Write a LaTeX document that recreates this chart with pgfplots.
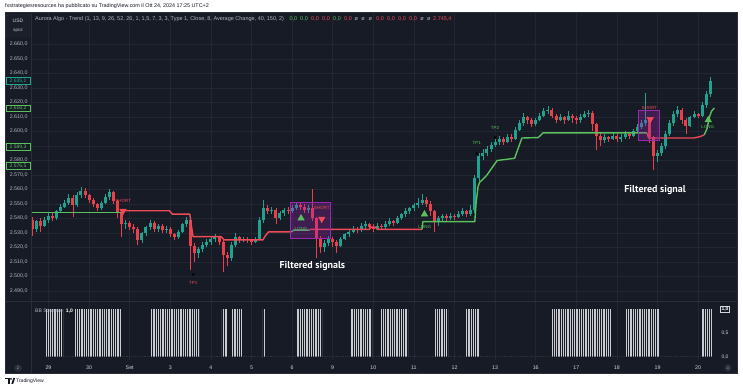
\documentclass[border=0pt]{standalone}
\usepackage{pgfplots}
\pgfplotsset{compat=1.18}
\usepackage{pgfplotstable}
\usepackage{fontspec}
\setmainfont{Liberation Sans}
\newfontfamily\annfont{PT Sans}
\newfontfamily\symfont{DejaVu Sans}
\usetikzlibrary{patterns.meta}
\definecolor{bgd}{HTML}{171B26}
\definecolor{gridc}{HTML}{222633}
\definecolor{sepc}{HTML}{2A2E39}
\definecolor{upc}{HTML}{1FA38F}
\definecolor{dnc}{HTML}{EB3F4C}
\definecolor{tgreen}{HTML}{5CBF5E}
\definecolor{tred}{HTML}{EE4B57}
\definecolor{txt}{HTML}{B2B5BE}
\definecolor{txtl}{HTML}{D1D4DC}
\definecolor{boxc}{HTML}{9C27B0}
\definecolor{sqz}{HTML}{C9CBD1}
\definecolor{hdr}{HTML}{131722}

\pgfplotstableread{
x o h l c
-0.4 2539 2541 2528 2533
-0.3 2533 2539 2531 2538
-0.2 2538 2540 2531 2535
-0.1 2535 2541 2534 2539
0.0 2539 2544 2537 2542
0.1 2542 2544 2538 2540
0.2 2540 2546 2539 2545
0.3 2545 2550 2544 2548
0.4 2548 2553 2547 2551
0.5 2551 2557 2549 2554
0.6 2554 2556 2541 2549
0.7 2549 2558 2548 2556
0.8 2556 2561.7 2554 2559
0.9 2559 2561 2554 2556
1.0 2556 2557 2551 2553
1.1 2553 2554 2548 2550
1.2 2550 2551 2545 2547
1.3 2547 2552 2546 2551
1.4 2551 2557 2550 2555
1.5 2555 2560.5 2553 2558
1.6 2558 2559 2550 2552
1.7 2552 2553 2540 2544
1.8 2544 2546 2527 2536
1.9 2536 2539 2533 2537
2.0 2537 2538 2532 2534
2.1 2534 2536 2530 2533
2.2 2533 2534 2522 2525
2.3 2525 2531 2523 2530
2.4 2530 2535 2528 2534
2.5 2534 2539 2532 2537
2.6 2537 2538 2531 2533
2.7 2533 2536 2531 2535
2.8 2535 2536 2530 2532
2.9 2532 2535 2530 2533
3.0 2533 2534 2527 2529
3.1 2529 2530 2525 2527
3.2 2527 2532 2526 2531
3.3 2531 2537 2530 2536
3.4 2536 2541 2534 2539
3.5 2539 2540 2504.5 2521
3.6 2521 2523 2510 2516
3.7 2516 2520 2513 2519
3.8 2519 2524 2517 2522
3.9 2522 2526 2520 2524
4.0 2524 2528 2522 2526
4.1 2526 2529 2524 2527
4.2 2527 2528 2522 2524
4.3 2524 2525 2503 2515
4.4 2515 2517 2507 2513
4.5 2513 2524 2511 2522
4.6 2522 2530 2520 2527
4.7 2527 2528 2523 2525
4.8 2525 2527 2524 2526
4.9 2526 2527 2523 2525
5.0 2525 2526 2522 2524
5.1 2524 2527 2523 2526
5.2 2526 2541 2525 2539
5.3 2539 2553 2537 2547
5.4 2547 2549 2543 2545
5.5 2545 2548 2543 2546
5.6 2546 2547 2536 2540
5.7 2540 2545 2539 2544
5.8 2544 2547 2542 2546
5.9 2546 2548 2543 2545
6.0 2545 2549 2544 2547
6.1 2547 2551 2546 2549
6.2 2549 2551 2546 2548
6.3 2548 2550 2544 2546
6.4 2546 2549 2544 2547
6.5 2547 2560 2538 2540
6.6 2540 2541 2513 2526
6.7 2526 2528 2516 2520
6.8 2520 2525 2517 2523
6.9 2523 2528 2521 2526
7.0 2526 2527 2520 2524
7.1 2524 2525 2516 2521
7.2 2521 2527 2520 2526
7.3 2526 2530 2525 2529
7.4 2529 2533 2527 2531
7.5 2531 2535 2530 2533
7.6 2533 2534 2530 2532
7.7 2532 2537 2531 2535
7.8 2535 2538 2533 2536
7.9 2536 2537 2532 2534
8.0 2534 2536 2531 2533
8.1 2533 2537 2532 2535
8.2 2535 2536 2532 2534
8.3 2534 2538 2533 2536
8.4 2536 2540 2535 2538
8.5 2538 2539 2535 2537
8.6 2537 2542 2536 2540
8.7 2540 2544 2539 2543
8.8 2543 2547 2541 2545
8.9 2545 2548 2543 2547
9.0 2547 2551 2545 2549
9.1 2549 2554 2547 2551
9.2 2551 2557 2549 2553
9.3 2553 2555 2548 2550
9.4 2550 2552 2542 2545
9.5 2545 2546 2531 2538
9.6 2538 2542 2535 2540
9.7 2540 2543 2538 2542
9.8 2542 2543 2538 2540
9.9 2540 2544 2539 2542
10.0 2542 2543 2539 2541
10.1 2541 2545 2540 2543
10.2 2543 2547 2542 2545
10.3 2545 2546 2541 2543
10.4 2543 2549 2542 2546
10.5 2546 2570 2544 2568
10.6 2568 2585 2566 2583
10.7 2583 2588 2580 2585
10.8 2585 2590 2583 2588
10.9 2588 2593 2586 2591
11.0 2591 2595 2589 2593
11.1 2593 2597 2591 2595
11.2 2595 2596 2591 2593
11.3 2593 2598 2592 2596
11.4 2596 2598 2593 2595
11.5 2595 2603 2594 2601
11.6 2601 2608 2600 2606
11.7 2606 2613 2604 2610
11.8 2610 2611 2605 2608
11.9 2608 2609 2603 2605
12.0 2605 2609 2604 2608
12.1 2608 2613 2607 2611
12.2 2611 2616 2610 2614
12.3 2614 2617.5 2612 2615
12.4 2615 2616 2609 2611
12.5 2611 2612 2606 2608
12.6 2608 2612 2607 2610
12.7 2610 2611 2605 2608
12.8 2608 2614 2607 2611
12.9 2611 2612 2606 2609
13.0 2609 2611 2605 2608
13.1 2608 2612 2606 2610
13.2 2610 2614 2609 2612
13.3 2612 2615 2610 2613
13.4 2613 2614 2600 2605
13.5 2605 2606 2587 2597
13.6 2597 2599 2590 2594
13.7 2594 2598 2592 2596
13.8 2596 2597 2593 2595
13.9 2595 2599 2594 2597
14.0 2597 2598 2593 2595
14.1 2595 2598 2593 2596
14.2 2596 2600 2595 2598
14.3 2598 2599 2595 2597
14.4 2597 2602 2596 2600
14.5 2600 2605 2599 2603
14.6 2603 2608 2602 2606
14.7 2606 2626.5 2604 2608
14.8 2608 2609 2592 2596
14.9 2596 2597 2573.5 2583
15.0 2583 2587 2579 2585
15.1 2585 2592 2583 2590
15.2 2590 2600 2588 2598
15.3 2598 2608 2597 2606
15.4 2606 2614 2604 2612
15.5 2612 2617.5 2610 2615
15.6 2615 2616 2605 2608
15.7 2608 2609 2598 2604
15.8 2604 2611 2603 2610
15.9 2610 2614 2609 2612
16.0 2612 2613 2609 2611
16.1 2611 2620 2610 2618
16.2 2618 2628 2616 2626
16.3 2626 2637.5 2624 2635.1
}\candles

\pgfplotsset{
  candle/.style={quiver={u=0, v=#1}, -, mark=none, line cap=butt},
}

\begin{document}
\begin{tikzpicture}
\begin{scope}[x=1pt,y=1pt]
\useasboundingbox (0,0) rectangle (743,390);
\fill[white] (0,0) rectangle (743,390);
\fill[bgd] (5,17) rectangle (737,378);
\node[anchor=west, inner sep=0pt, text=hdr, font=\fontsize{5.4}{6}\selectfont] at (5,384)
  {fxstrategiesresources ha pubblicato su TradingView.com il Ott 24, 2024 17:25 UTC+2};
\end{scope}

% main pane
\begin{axis}[
  at={(31pt,88pt)}, anchor=south west, scale only axis,
  width=706pt, height=290pt,
  xmin=-0.431, xmax=16.958, ymin=2482.4, ymax=2682.4,
  axis line style={draw=none}, major tick length=0pt,
  xtick={0,1,...,16}, xticklabels=\empty,
  ytick={2490,2500,...,2660}, scaled y ticks=false,
  grid=major, major grid style={draw=gridc, line width=0.5pt},
  yticklabel style={font=\fontsize{5.3}{6}\selectfont, text=txt},
  y tick label style={/pgf/number format/fixed, /pgf/number format/fixed zerofill,
    /pgf/number format/precision=1, /pgf/number format/use comma,
    /pgf/number format/1000 sep={.}, /pgf/number format/assume math mode=true},
  clip=false,
]
% wicks
\addplot[candle={\thisrow{h}-\thisrow{l}}, draw=upc, line width=0.7pt,
  restrict expr to domain={\thisrow{c}-\thisrow{o}}{0:1000}]
  table[x=x, y=l] {\candles};
\addplot[candle={\thisrow{h}-\thisrow{l}}, draw=dnc, line width=0.7pt,
  restrict expr to domain={\thisrow{o}-\thisrow{c}}{0.001:1000}]
  table[x=x, y=l] {\candles};
% bodies
\addplot[candle={\thisrow{c}-\thisrow{o}}, draw=upc, line width=3.0pt,
  restrict expr to domain={\thisrow{c}-\thisrow{o}}{0:1000}]
  table[x=x, y=o] {\candles};
\addplot[candle={\thisrow{o}-\thisrow{c}}, draw=dnc, line width=3.0pt,
  restrict expr to domain={\thisrow{o}-\thisrow{c}}{0.001:1000}]
  table[x=x, y=c] {\candles};

% trend line
\addplot[tgreen, line width=1.4pt, line join=round] coordinates {(-0.43,2544.3) (1.78,2544.3)};
\addplot[tred, line width=1.4pt, line join=round] coordinates {(1.78,2545.3) (2.98,2545.3) (3.05,2543) (3.48,2543) (3.52,2535) (3.56,2527.5) (4.25,2527.5) (4.33,2525.2) (5.28,2525.2) (5.34,2528) (5.42,2530.8) (5.98,2530.8)};
\addplot[tgreen, line width=1.4pt, line join=round] coordinates {(5.98,2530.8) (6.05,2532) (6.43,2532)};
\addplot[tred, line width=1.4pt, line join=round] coordinates {(6.43,2532.5) (7.9,2532.5) (7.95,2534) (8.05,2534) (8.1,2532.5) (9.2,2532.5)};
\addplot[tgreen, line width=1.4pt, line join=round] coordinates {(9.2,2532.5) (9.22,2537.8) (10.5,2537.8) (10.53,2550) (10.58,2562) (10.62,2565) (10.7,2567) (10.8,2570) (11.05,2580) (11.48,2581.5) (11.66,2595.5) (12.06,2595.8) (12.18,2599) (14.74,2599)};
\addplot[tred, line width=1.4pt, line join=round] coordinates {(14.74,2599) (14.78,2595.5) (15.9,2595.5) (16.05,2596.5) (16.15,2597.6)};
\addplot[tgreen, line width=1.4pt, line join=round] coordinates {(16.15,2597.6) (16.22,2602) (16.28,2610) (16.33,2614) (16.4,2616.2)};

% filter boxes
\addplot[draw=boxc, line width=0.9pt, fill=boxc, fill opacity=0.3] coordinates {(5.95,2526.3) (6.95,2526.3) (6.95,2551.2) (5.95,2551.2)} -- cycle;
\addplot[draw=boxc, line width=0.9pt, fill=boxc, fill opacity=0.3] coordinates {(14.54,2594.1) (15.04,2594.1) (15.04,2614.8) (14.54,2614.8)} -- cycle;

% signals
\addplot[only marks, mark=triangle*, mark size=3.8pt, color=tgreen] coordinates {(6.22,2540.1) (9.26,2542.9) (16.25,2607.9)};
\addplot[only marks, mark=triangle*, mark size=3.8pt, color=tred, mark options={rotate=180}] coordinates {(1.835,2545.2) (6.73,2539.7) (14.82,2608.4)};
\addplot[only marks, mark=text, text mark={\symfont\fontsize{5}{5}\selectfont ★}, color=tred] coordinates {(3.567,2501.5)};
\addplot[only marks, mark=text, text mark={\symfont\fontsize{5}{5}\selectfont ★}, color=tgreen] coordinates {(10.55,2584.5) (11.0,2596)};

\begin{scope}[every node/.style={inner sep=0pt, font=\fontsize{4.5}{5}\selectfont}]
\node[text=tred] at (axis cs:1.84,2552.3) {SHORT};
\node[text=tred] at (axis cs:6.73,2547) {SHORT};
\node[text=tred] at (axis cs:14.80,2616.4) {SHORT};
\node[text=tgreen] at (axis cs:6.22,2532.5) {LONG};
\node[text=tgreen] at (axis cs:9.27,2534.3) {LONG};
\node[text=tgreen] at (axis cs:16.24,2603.3) {LONG};
\node[text=tred] at (axis cs:3.567,2495.3) {TP1};
\node[text=tgreen] at (axis cs:10.55,2591.9) {TP1};
\node[text=tgreen] at (axis cs:11.0,2602.6) {TP2};
\end{scope}
\node[text=white, font=\annfont\bfseries\fontsize{10}{11}\selectfont, inner sep=0pt] at (axis cs:6.50,2506.9) {Filtered signals};
\node[text=white, font=\annfont\bfseries\fontsize{10}{11}\selectfont, inner sep=0pt] at (axis cs:14.94,2559.7) {Filtered signal};
\end{axis}

% bottom pane
\begin{axis}[
  at={(31pt,30pt)}, anchor=south west, scale only axis,
  width=706pt, height=58pt,
  xmin=-0.431, xmax=16.958, ymin=-0.069, ymax=1.147,
  axis line style={draw=none}, major tick length=0pt,
  xtick={0,1,...,16},
  xticklabels={29,30,Set,3,4,5,6,9,10,11,12,13,16,17,18,19,20},
  xticklabel style={font=\fontsize{5.3}{6}\selectfont, text=txtl, anchor=center, yshift=-8pt},
  ytick=\empty,
  xmajorgrids, major grid style={draw=gridc, line width=0.5pt},
]
\addplot[ybar interval, draw=none, pattern={Lines[angle=90,distance=1.8pt,line width=0.95pt]}, pattern color=sqz]
 coordinates {(-0.06,1) (0.36,0) (0.65,1) (1.81,0) (2.52,1) (3.71,0) (4.27,1) (4.40,0) (4.50,1) (4.79,0)
 (5.28,1) (5.33,0) (6.12,1) (6.74,0) (7.45,1) (7.97,0) (8.19,1) (8.86,0) (9.52,1) (9.84,0) (10.28,1) (10.60,0)
 (12.38,1) (13.85,0) (14.20,1) (15.04,0) (16.10,1) (16.34,0)};
\end{axis}

% chrome
\begin{scope}[x=1pt,y=1pt]
\draw[sepc, line width=0.6pt] (31,17) -- (31,378);
\draw[sepc, line width=1pt] (5,88) -- (737,88);
\draw[sepc, line width=0.5pt] (5,17) rectangle (737,378);
\filldraw[fill=bgd!80!sepc, draw=sepc, rounded corners=1.5pt] (6,353) rectangle (30,375.5);
\node[text=txtl, font=\fontsize{5}{6}\selectfont, inner sep=0pt] at (18,369.5) {USD};
\node[text=txt, font=\fontsize{4.6}{5}\selectfont, inner sep=0pt] at (18,359) {apoz};
\node[anchor=west, inner sep=0pt, text=txt, font=\fontsize{5.5}{6}\selectfont] at (35,371)
 {Aurora Algo - Trend (1, 13, 9, 26, 52, 26, 1, 1,5, 7, 3, 3, Type 1, Close, 8, Average Change, 40, 150, 2)};
\begin{scope}[every node/.style={anchor=west, inner sep=0pt, font=\fontsize{5.5}{6}\selectfont}]
\node[text=tgreen] at (289.3,371) {0,0};
\node[text=tgreen] at (300,371) {0,0};
\node[text=tred] at (311,371) {0,0};
\node[text=tred] at (322,371) {0,0};
\node[text=tgreen] at (333,371) {0,0};
\node[text=tred] at (344,371) {0,0};
\node[text=txt] at (354.5,371) {ø};
\node[text=txt] at (361.2,371) {ø};
\node[text=txt] at (368.5,371) {ø};
\node[text=tred] at (376,371) {0,0};
\node[text=tred] at (387,371) {0,0};
\node[text=tred] at (398,371) {0,0};
\node[text=tred] at (409,371) {0,0};
\node[text=txt] at (420.2,371) {ø};
\node[text=txt] at (426.8,371) {ø};
\node[text=tred] at (433,371) {2.745,4};
\end{scope}
\begin{scope}[every node/.style={fill=bgd, font=\fontsize{5}{5}\selectfont, inner sep=0.8pt, minimum width=24pt, minimum height=6.5pt, line width=0.5pt}]
\node[draw=upc, text=upc] at (18,309.1) {2.635,1};
\node[draw=tgreen, text=tgreen] at (18,281.5) {2.616,2};
\node[draw=tgreen, text=tgreen] at (18,243.0) {2.589,3};
\node[draw=tgreen, text=tgreen] at (18,224.4) {2.576,5};
\end{scope}
\node[anchor=west, inner sep=0pt, text=txt, font=\fontsize{5}{6}\selectfont] at (35,79) {BB Squeeze\hspace{3pt}\textcolor{white}{\bfseries 1,0}};
\node[draw=txtl, text=white, fill=bgd, font=\bfseries\fontsize{5}{5}\selectfont, inner sep=1pt, line width=0.5pt] at (725,81) {1,0};
\node[text=txtl, font=\fontsize{5}{5}\selectfont, inner sep=0pt] at (725,57.3) {0,5};
\node[text=txtl, font=\fontsize{5}{5}\selectfont, inner sep=0pt] at (725,33.3) {0,0};
\filldraw[fill=sepc, draw=sepc] (18,22) circle (3.5);
\node[text=txt, font=\fontsize{3.5}{4}\selectfont, inner sep=0pt] at (18,22) {Z};
\filldraw[fill=sepc, draw=sepc] (728,22) circle (3.5);
\node[text=txt, font=\fontsize{3.5}{4}\selectfont, inner sep=0pt] at (728,22) {A};
\fill[hdr] (5,10.5) rectangle (9.6,12.2);
\fill[hdr] (8,6.2) rectangle (9.6,12.2);
\fill[hdr] (11.1,11.1) circle (1.0);
\fill[hdr] (11.4,6.2) -- (13.4,12.2) -- (15.2,12.2) -- (13.2,6.2) -- cycle;
\node[anchor=west, inner sep=0pt, text=hdr, font=\fontsize{5}{6}\selectfont] at (16,9) {TradingView};
\end{scope}
\end{tikzpicture}
\end{document}
